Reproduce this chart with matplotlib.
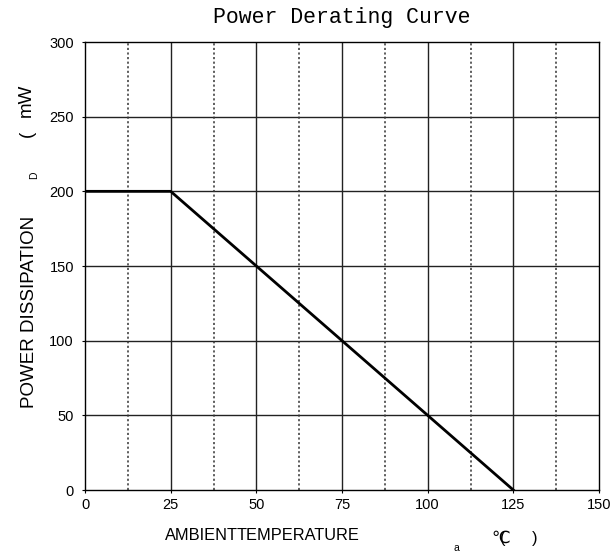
import matplotlib
matplotlib.use("Agg")
import matplotlib.pyplot as plt
import numpy as np

temps = [0, 25, 125]
power = [200, 200, 0]
x_ticks = [0, 25, 50, 75, 100, 125, 150]
x_minor = [12.5, 37.5, 62.5, 87.5, 112.5, 137.5]
y_ticks = [0, 50, 100, 150, 200, 250, 300]

fig = plt.figure(figsize=(6.11, 5.55), dpi=100)
ax = fig.add_axes([85/611, 65/555, 514/611, 448/555])
ax.set_xlim(0, 150)
ax.set_ylim(0, 300)

for x in x_ticks[1:-1]:
    ax.axvline(x, color="#222222", lw=1.0, zorder=1)
for y in y_ticks[1:-1]:
    ax.axhline(y, color="#222222", lw=1.0, zorder=1)
for x in x_minor:
    ax.axvline(x, color="#333333", lw=1.1, ls=(0, (1.4, 1.6)), zorder=1)

ax.plot(temps, power, color="black", lw=2.0, zorder=3)

ax.set_xticks(x_ticks)
ax.set_yticks(y_ticks)
ax.set_xticklabels([str(v) for v in x_ticks], fontsize=10.5, family="Liberation Sans")
ax.set_yticklabels([str(v) for v in y_ticks], fontsize=10.5, family="Liberation Sans")
ax.tick_params(axis="x", length=2, width=0.8, pad=4)
ax.tick_params(axis="y", length=2, width=0.8, pad=6)
for s in ax.spines.values():
    s.set_linewidth(1.0)

fig.text(342/611, 1 - 23/555, "Power Derating Curve", ha="center", va="baseline",
         fontsize=15.5, family="Liberation Mono")

lab = dict(fontsize=11.8, family="Liberation Sans")
# x label pieces
fig.text(165/611, 1 - 536/555, "AMBIENT", ha="left", va="center", **lab)
fig.text(237/611, 1 - 536/555, "TEMPERATURE", ha="left", va="center", **lab)
fig.text(453/611, 1 - 548/555, "a", ha="left", va="center", fontsize=7.5, family="Liberation Sans")
fig.text(491/611, 1 - 538/555, "\u2103", ha="left", va="center", fontsize=12, family="DejaVu Sans")
fig.text(500/611, 1 - 538/555, "(", ha="left", va="center", **lab)
fig.text(532/611, 1 - 538/555, ")", ha="left", va="center", **lab)

# y label pieces
ylab = dict(fontsize=13.5, family="Liberation Sans")
fig.text(30/611, 1 - 312/555, "POWER DISSIPATION", rotation=90, ha="center", va="center", **ylab)
fig.text(34/611, 1 - 175/555, "D", rotation=90, ha="center", va="center", fontsize=7.5, family="Liberation Sans")
fig.text(27/611, 1 - 134/555, "(", rotation=90, ha="center", va="center", **ylab)
fig.text(26/611, 1 - 100/555, "mW", rotation=90, ha="center", va="center", **ylab)

fig.savefig("out.png", dpi=100)
